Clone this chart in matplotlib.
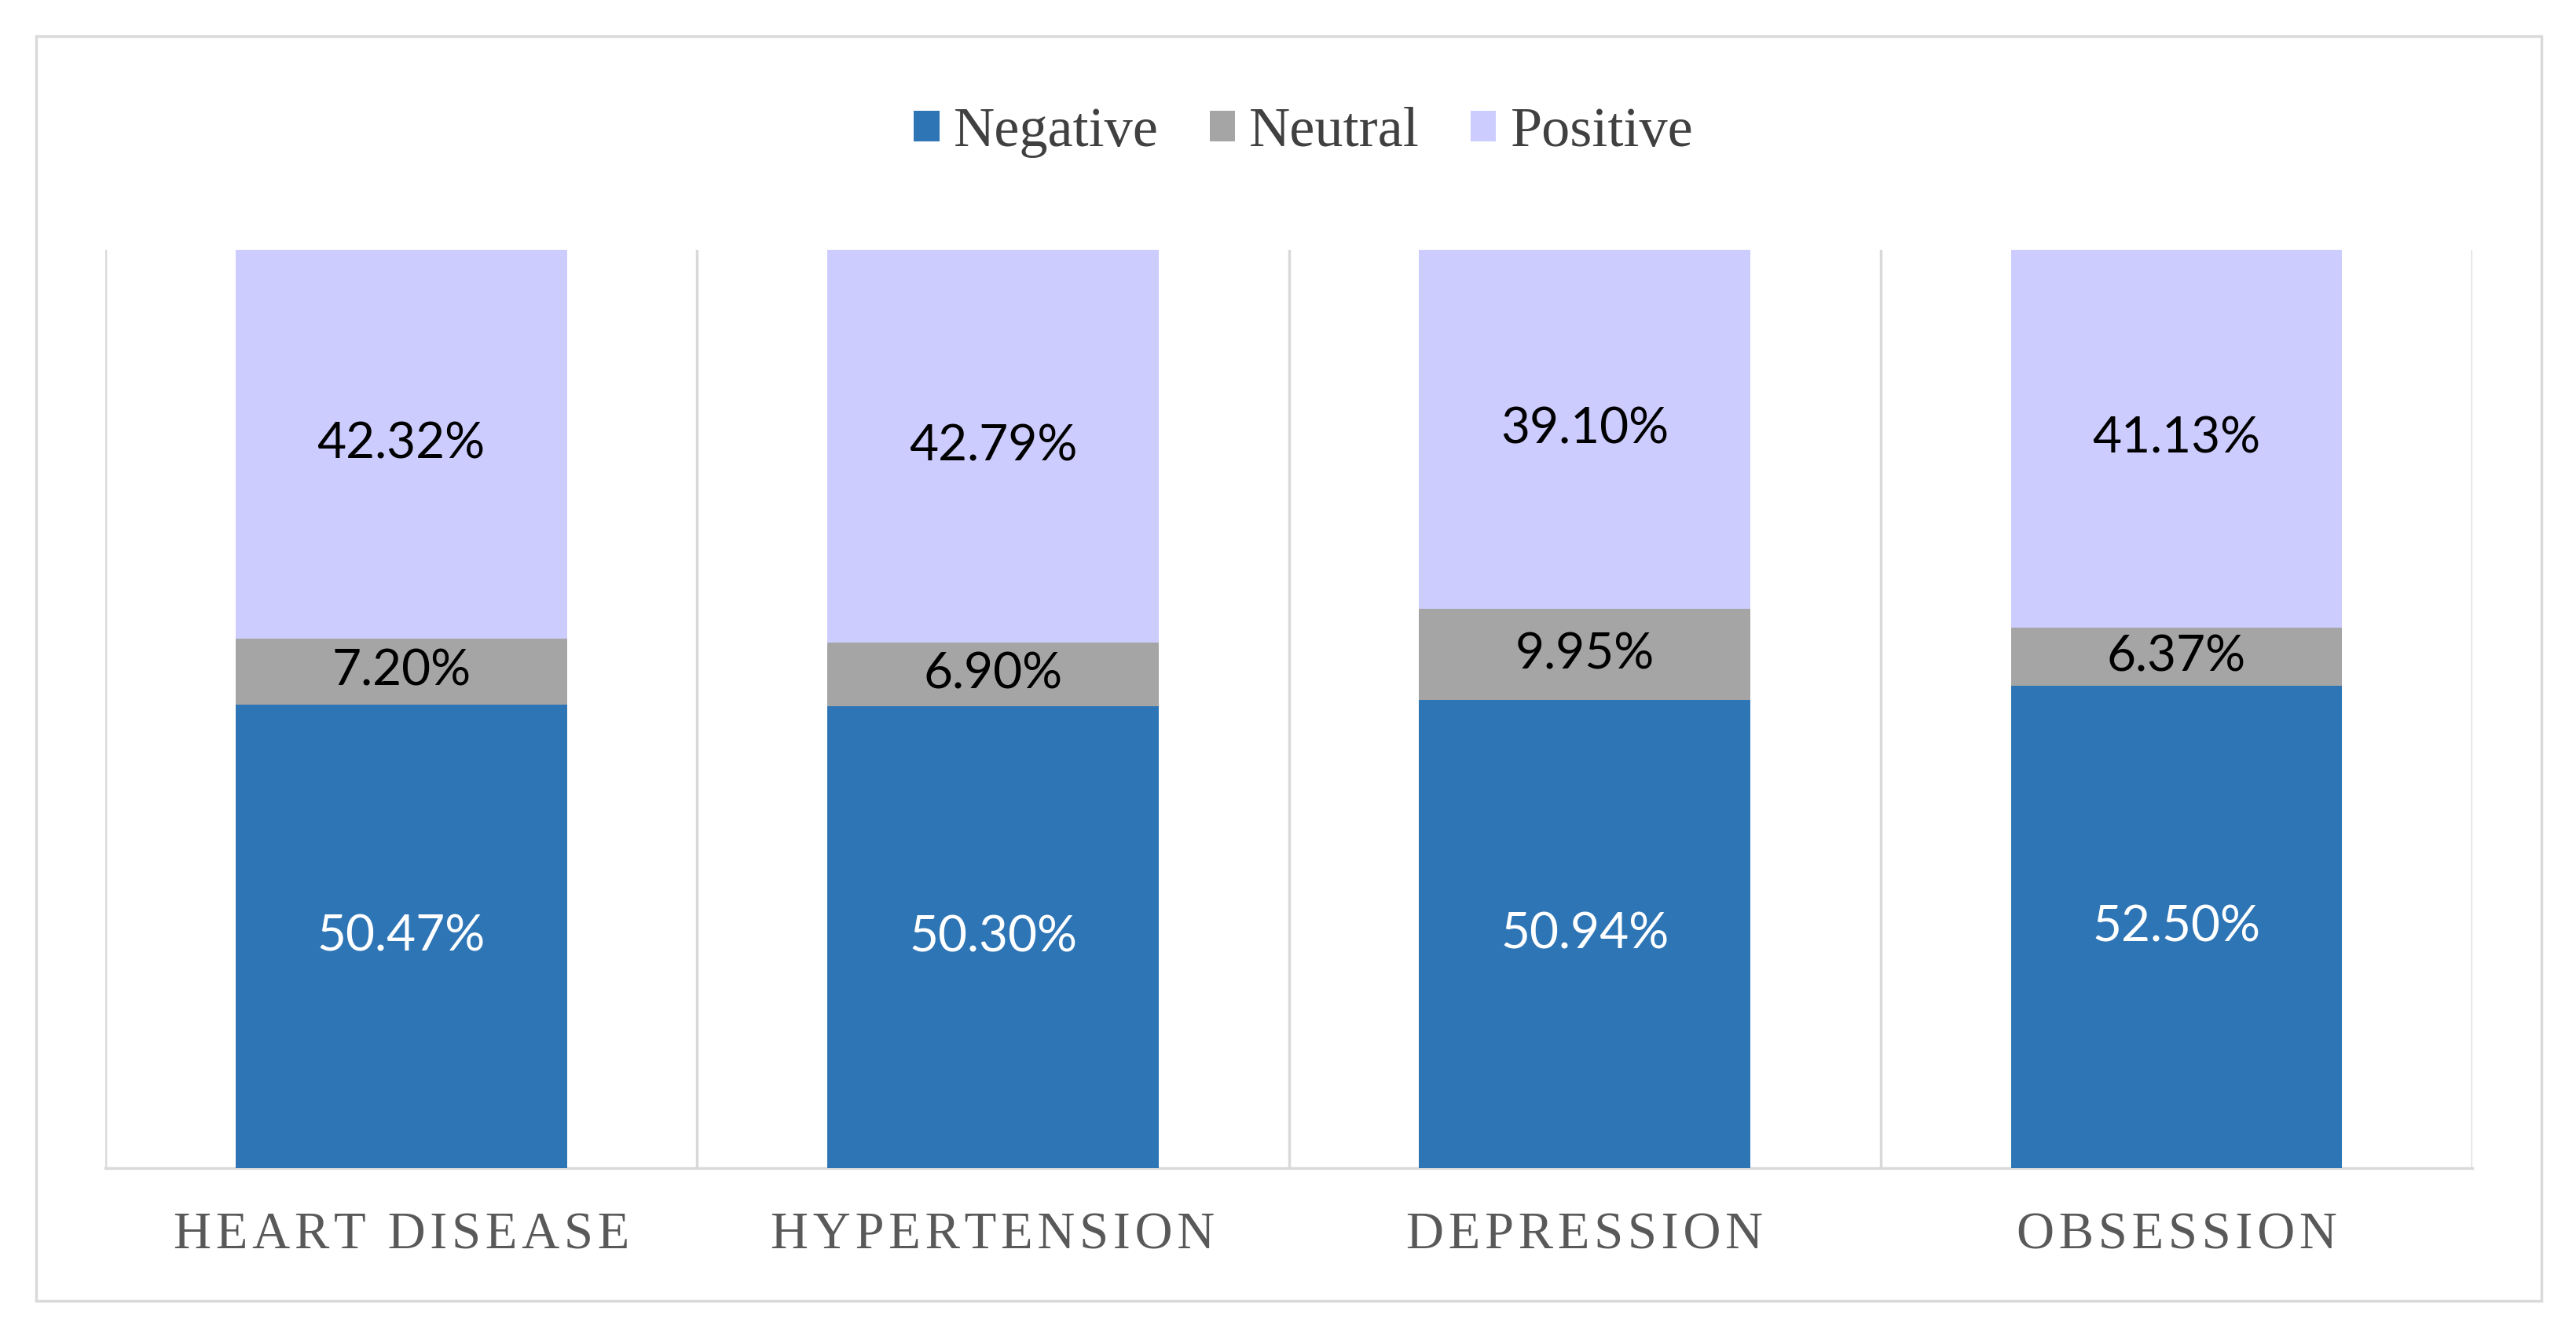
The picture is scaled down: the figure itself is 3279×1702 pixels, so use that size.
import numpy as np
import matplotlib
matplotlib.use('Agg')
import matplotlib.pyplot as plt
from matplotlib.patches import Rectangle, Patch

# data (percent)
categories = ['HEART DISEASE', 'HYPERTENSION', 'DEPRESSION', 'OBSESSION']
negative = [50.47, 50.30, 50.94, 52.50]
neutral = [7.20, 6.90, 9.95, 6.37]
positive = [42.32, 42.79, 39.10, 41.13]

series_names = ['Negative', 'Neutral', 'Positive']
colors = ['#2E75B6', '#A5A5A5', '#CCCCFF']
label_colors = ['white', 'black', 'black']


def spaced(s):
    # fake letter spacing with hair spaces
    return '\u200a'.join(s)


fig = plt.figure(figsize=(32.79, 17.02), dpi=100)
ax = fig.add_axes([0.0409, 0.1263, 0.9189, 0.6869])

# outer frame
fig.patches.append(Rectangle((0.014, 0.027), 0.9726, 0.946, transform=fig.transFigure,
                             fill=False, edgecolor='#D9D9D9', linewidth=2.5))

x = np.arange(len(categories))
width = 0.56
bottom = np.zeros(len(categories))
for vals, name, col, lcol in zip([negative, neutral, positive], series_names, colors, label_colors):
    bars = ax.bar(x, vals, width, bottom=bottom, color=col, label=name, zorder=3)
    for b, v, b0 in zip(bars, vals, bottom):
        ax.text(b.get_x() + b.get_width() / 2, b0 + v / 2, '%.2f%%' % v,
                ha='center', va='center', color=lcol, fontsize=46, family='Lato', zorder=4)
    bottom = bottom + np.array(vals)

ax.set_xlim(-0.5, len(categories) - 0.5)
ax.set_ylim(0, 100)
ax.set_yticks([])
for xv in np.arange(-0.5, len(categories), 1.0):
    ax.axvline(xv, color='#D9D9D9', linewidth=2.5, zorder=1)

for s in ['top', 'left', 'right']:
    ax.spines[s].set_visible(False)
ax.spines['bottom'].set_color('#D9D9D9')
ax.spines['bottom'].set_linewidth(2.5)

ax.set_xticks(x)
ax.set_xticklabels([spaced(c) for c in categories], family='Liberation Serif',
                   fontsize=48, color='#595959')
ax.tick_params(axis='x', length=0, pad=40)

handles = [Patch(facecolor=c, edgecolor='none') for c in colors]
leg = fig.legend(handles, series_names, loc='center', bbox_to_anchor=(0.506, 0.901),
                 ncol=3, frameon=False, prop={'family': 'Liberation Serif', 'size': 52},
                 handlelength=0.45, handleheight=0.45, handletextpad=0.25, columnspacing=0.9)
for t in leg.get_texts():
    t.set_color('#404040')

plt.savefig('out.png', dpi=100, facecolor='white')
